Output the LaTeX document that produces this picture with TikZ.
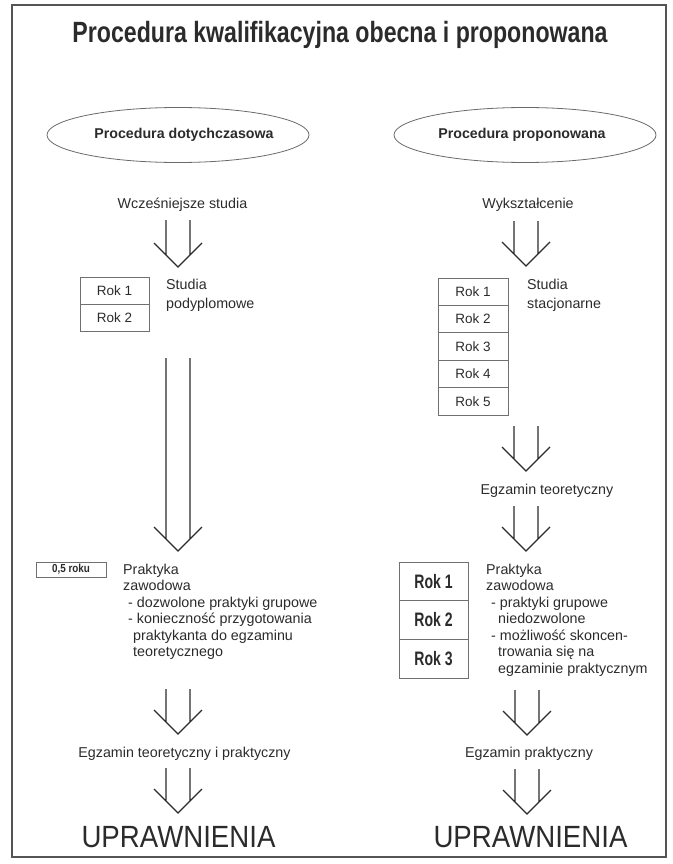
\documentclass[tikz,border=0pt]{standalone}
\usepackage{fontspec}
\setmainfont{Liberation Sans}
\usepackage{graphicx}
\usetikzlibrary{shapes.geometric,calc}
\definecolor{ink}{HTML}{2B2B2B}
\definecolor{framecol}{HTML}{555555}
\definecolor{ellcol}{HTML}{6A6A6A}
\definecolor{boxcol}{HTML}{707070}
\newcommand\dblarrow[2]{%
  \draw[arrline] let \p1=(#1), \p2=(#2) in
    (\x2-12pt,\y1) -- (\x2-12pt,\y2+12pt)
    (\x2+12pt,\y1) -- (\x2+12pt,\y2+12pt)
    (\x2-24pt,\y2+24pt) -- (\x2,\y2) -- (\x2+24pt,\y2+24pt);}
\begin{document}
\begin{tikzpicture}[x=1pt,y=-1pt,
  txt/.style={inner sep=0pt, text=ink, font=\fontsize{14.3}{16.5}\selectfont},
  bodytxt/.style={txt, align=left, anchor=base west},
  headell/.style={ellipse, draw=ellcol, line width=0.8pt, minimum width=262pt, minimum height=55pt, inner sep=0pt},
  rokbox/.style={draw=boxcol, line width=0.8pt, inner sep=0pt, text=ink, font=\fontsize{13.5}{14}\selectfont},
  arrline/.style={draw=ink, line width=1.2pt, line join=miter},
  bigtxt/.style={inner sep=0pt, text=ink, anchor=base}]
\useasboundingbox (0,0) rectangle (672,864);
\draw[framecol, line width=1.4pt] (12,5) rectangle (666,857);
\node[bigtxt] (title) at (340,43) {\scalebox{0.79}[1]{\fontsize{29.3}{30}\selectfont\bfseries Procedura kwalifikacyjna obecna i proponowana}};
% left column
\node[headell] (ellL) at (178,135) {};
\node[txt, font=\fontsize{14.2}{16}\selectfont\bfseries] (ellLt) at (184,135) {Procedura dotychczasowa};
\node[txt, anchor=base] (wcz) at (182.5,208) {Wcześniejsze studia};
\coordinate (a1s) at (178,220); \coordinate (a1e) at (178,267);
\node[rokbox, minimum width=69pt, minimum height=27pt] (l1) at (114.5,290.5) {Rok 1};
\node[rokbox, minimum width=69pt, minimum height=27pt] (l2) at (114.5,317.5) {Rok 2};
\node[txt, anchor=base west] (studL1) at (166,289) {Studia};
\node[txt, anchor=base west] (studL2) at (166,308) {podyplomowe};
\coordinate (a2s) at (178,358); \coordinate (a2e) at (178,551);
\node[rokbox, minimum width=70pt, minimum height=15pt] (half) at (71,569.5) {\scalebox{0.85}[1]{\fontsize{11.6}{12}\selectfont\bfseries 0,5 roku}};
\node[bodytxt] (praktL) at (123,656.5) {Praktyka\\zawodowa\\\hspace*{5pt}- dozwolone praktyki grupowe\\\hspace*{5pt}- konieczność przygotowania\\\hspace*{10pt}praktykanta do egzaminu\\\hspace*{10pt}teoretycznego};
\coordinate (a3s) at (178,689); \coordinate (a3e) at (178,734);
\node[txt, anchor=base] (egzL) at (184.5,757) {Egzamin teoretyczny i praktyczny};
\coordinate (a4s) at (178,768); \coordinate (a4e) at (178,813);
\node[bigtxt] (uprL) at (178.5,847) {\scalebox{0.9}[1]{\fontsize{30.7}{32}\selectfont UPRAWNIENIA}};
% right column
\node[headell] (ellR) at (525,135) {};
\node[txt, font=\fontsize{14.2}{16}\selectfont\bfseries] (ellRt) at (522,135) {Procedura proponowana};
\node[txt, anchor=base] (wyk) at (528,208) {Wykształcenie};
\coordinate (b1s) at (526,221); \coordinate (b1e) at (526,266);
\node[rokbox, minimum width=70pt, minimum height=27.4pt] (r1) at (473,291.7) {Rok 1};
\node[rokbox, minimum width=70pt, minimum height=27.4pt] (r2) at (473,319.1) {Rok 2};
\node[rokbox, minimum width=70pt, minimum height=27.4pt] (r3) at (473,346.5) {Rok 3};
\node[rokbox, minimum width=70pt, minimum height=27.4pt] (r4) at (473,373.9) {Rok 4};
\node[rokbox, minimum width=70pt, minimum height=27.4pt] (r5) at (473,401.3) {Rok 5};
\node[txt, anchor=base west] (studR1) at (527,289) {Studia};
\node[txt, anchor=base west] (studR2) at (527,308) {stacjonarne};
\coordinate (b2s) at (526,426); \coordinate (b2e) at (526,471);
\node[txt, anchor=base] (egzT) at (547,494) {Egzamin teoretyczny};
\coordinate (b3s) at (526,506); \coordinate (b3e) at (526,551);
\node[rokbox, minimum width=69pt, minimum height=38.7pt] (p1) at (433.5,581.3) {\scalebox{0.72}[1]{\fontsize{19.5}{20}\selectfont\bfseries Rok 1}};
\node[rokbox, minimum width=69pt, minimum height=38.7pt] (p2) at (433.5,620) {\scalebox{0.72}[1]{\fontsize{19.5}{20}\selectfont\bfseries Rok 2}};
\node[rokbox, minimum width=69pt, minimum height=38.7pt] (p3) at (433.5,658.7) {\scalebox{0.72}[1]{\fontsize{19.5}{20}\selectfont\bfseries Rok 3}};
\node[bodytxt] (praktR) at (486,673) {Praktyka\\zawodowa\\\hspace*{5pt}- praktyki grupowe\\\hspace*{12pt}niedozwolone\\\hspace*{5pt}- możliwość skoncen-\\\hspace*{12pt}trowania się na\\\hspace*{12pt}egzaminie praktycznym};
\coordinate (b4s) at (527,690); \coordinate (b4e) at (527,735);
\node[txt, anchor=base] (egzP) at (529,757) {Egzamin praktyczny};
\coordinate (b5s) at (527,769); \coordinate (b5e) at (527,814);
\node[bigtxt] (uprR) at (530.5,847) {\scalebox{0.9}[1]{\fontsize{30.7}{32}\selectfont UPRAWNIENIA}};
% arrows
\dblarrow{a1s}{a1e}
\dblarrow{a2s}{a2e}
\dblarrow{a3s}{a3e}
\dblarrow{a4s}{a4e}
\dblarrow{b1s}{b1e}
\dblarrow{b2s}{b2e}
\dblarrow{b3s}{b3e}
\dblarrow{b4s}{b4e}
\dblarrow{b5s}{b5e}
\end{tikzpicture}
\end{document}
